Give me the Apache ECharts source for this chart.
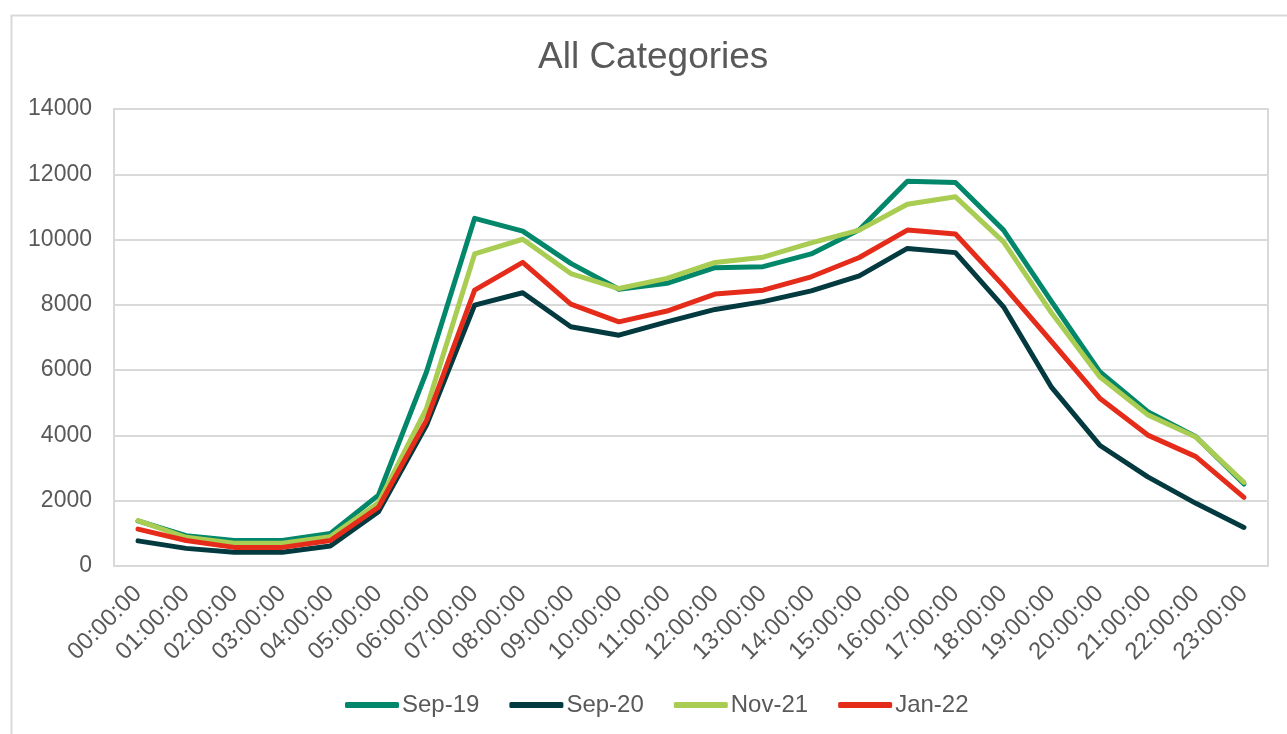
<!DOCTYPE html>
<html>
<head>
<meta charset="utf-8">
<script src="https://cdn.jsdelivr.net/npm/echarts@6/dist/echarts.min.js"></script>
<style>
  html, body { margin: 0; padding: 0; background: #fff; }
  #chart { width: 1287px; height: 734px; }
</style>
</head>
<body>
<div id="chart"></div>
<script>
// hourly values
var hours = ['00:00:00', '01:00:00', '02:00:00', '03:00:00', '04:00:00', '05:00:00',
  '06:00:00', '07:00:00', '08:00:00', '09:00:00', '10:00:00', '11:00:00',
  '12:00:00', '13:00:00', '14:00:00', '15:00:00', '16:00:00', '17:00:00',
  '18:00:00', '19:00:00', '20:00:00', '21:00:00', '22:00:00', '23:00:00'];
var seriesNames = ['Sep-19', 'Sep-20', 'Nov-21', 'Jan-22'];
var sep19 = [1380, 930, 780, 780, 1000, 2170, 5950, 10650, 10260, 9270, 8480, 8660,
  9140, 9170, 9560, 10300, 11790, 11750, 10290, 8100, 5950, 4730, 3960, 2510];
var sep20 = [770, 540, 420, 420, 610, 1660, 4320, 7990, 8370, 7330, 7070, 7480,
  7860, 8100, 8430, 8890, 9730, 9600, 7940, 5470, 3700, 2730, 1920, 1180];
var nov21 = [1390, 880, 700, 700, 900, 1940, 4830, 9560, 10010, 8960, 8500, 8810,
  9300, 9460, 9900, 10290, 11080, 11310, 9930, 7750, 5800, 4630, 3950, 2560];
var jan22 = [1130, 780, 570, 570, 780, 1800, 4470, 8450, 9300, 8020, 7480, 7810,
  8330, 8450, 8860, 9450, 10290, 10170, 8580, 6870, 5140, 4010, 3350, 2100];
var colors = ['#03876b', '#033a3f', '#a9cc53', '#e52c1a'];

var textColor = '#595959';
var lineColor = '#d9d9d9';
var font = 'Liberation Sans, Arial, sans-serif';

var chart = echarts.init(document.getElementById('chart'));

function makeLine(name, data, color) {
  return {
    name: name,
    type: 'line',
    data: data,
    showSymbol: false,
    symbol: 'none',
    lineStyle: { width: 5, color: color, cap: 'round', join: 'round' },
    itemStyle: { color: color },
    emphasis: { disabled: true }
  };
}

var option = {
  animation: false,
  color: colors,
  textStyle: { fontFamily: font },
  graphic: [{
    type: 'rect',
    left: 9, top: 13,
    shape: { width: 1300, height: 740 },
    style: { fill: 'none', stroke: lineColor, lineWidth: 2 },
    silent: true
  }],
  title: {
    text: 'All Categories',
    left: 538,
    top: 39,
    padding: 0,
    textStyle: { fontSize: 37, fontWeight: 'normal', color: textColor, fontFamily: font }
  },
  legend: {
    data: seriesNames,
    top: 688,
    left: 340,
    icon: 'roundRect',
    itemWidth: 54,
    itemHeight: 6,
    itemGap: 30,
    textStyle: { fontSize: 24, color: textColor, fontFamily: font, padding: [0, 0, 0, -2] }
  },
  grid: {
    left: 114, right: 19, top: 109, bottom: 168,
    show: true,
    borderColor: lineColor,
    borderWidth: 2
  },
  xAxis: {
    type: 'category',
    data: hours,
    boundaryGap: true,
    axisLine: { lineStyle: { color: lineColor, width: 2 } },
    axisTick: { show: false },
    axisLabel: { rotate: 45, interval: 0, margin: 24, fontSize: 24, color: textColor, fontFamily: font }
  },
  yAxis: {
    type: 'value',
    min: 0, max: 14000, interval: 2000,
    axisLine: { show: true, lineStyle: { color: lineColor, width: 2 } },
    axisTick: { show: false },
    splitLine: { lineStyle: { color: lineColor, width: 2 } },
    axisLabel: {
      margin: 22, fontSize: 23, color: textColor, fontFamily: font,
      formatter: function (v) { return String(v); }
    }
  },
  series: [
    makeLine(seriesNames[0], sep19, colors[0]),
    makeLine(seriesNames[1], sep20, colors[1]),
    makeLine(seriesNames[2], nov21, colors[2]),
    makeLine(seriesNames[3], jan22, colors[3])
  ]
};

chart.setOption(option);
</script>
</body>
</html>
